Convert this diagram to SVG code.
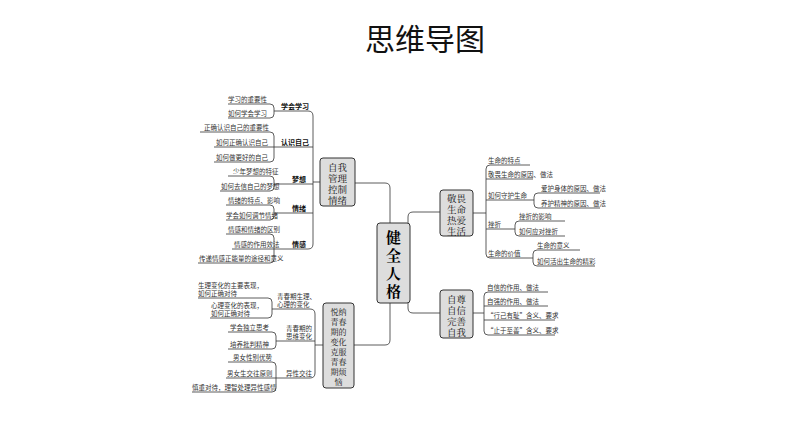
<svg xmlns="http://www.w3.org/2000/svg" width="794" height="447" viewBox="0 0 794 447">
<style>
.t{font-family:"Noto Sans CJK SC","Noto Sans",sans-serif;font-size:6.5px;fill:#333}
.l{font-family:"Noto Sans CJK SC",sans-serif;font-size:7px;fill:#111;font-weight:bold}
.n{font-family:"Noto Serif CJK SC","Noto Sans CJK SC",serif;font-size:9.5px;fill:#111}
.box{fill:#ddd;stroke:#333;stroke-width:1}
.c path{fill:none;stroke:#333;stroke-width:0.8}
</style>
<rect width="794" height="447" fill="#fff"/>
<text x="425" y="50" text-anchor="middle" font-family="Noto Sans CJK SC,sans-serif" font-size="30" fill="#111">思维导图</text>
<g class="c">
<path d="M355,183 H385 Q390,183 390,188 V340 Q390,345 385,345 H354"/>
<path d="M408,223 V217 Q408,212 413,212 H440"/>
<path d="M408,303 V308 Q408,313 413,313 H440"/>
<path d="M320,182 H313 M274,111 H308 Q313,111 313,116 V244 Q313,249 308,249 H274 M274,147 H313 M274,184 H313 M274,213 H313"/>
<path d="M228,104 H270 Q274,104 274,108 V114 Q274,118 270,118 H228"/>
<path d="M200,132 H270 Q274,132 274,136 V158 Q274,162 270,162 H214 M214,147 H274"/>
<path d="M228,176 H270 Q274,176 274,180 V187 Q274,191 270,191 H220"/>
<path d="M226,205 H270 Q274,205 274,209 V216 Q274,220 270,220 H226"/>
<path d="M226,234 H270 Q274,234 274,238 V259 Q274,263 270,263 H198 M232,249 H274"/>
<path d="M323,345 H315 M272,309 H310 Q315,309 315,314 V373 Q315,378 310,378 H276 M276,341 H315"/>
<path d="M198,298 H268 Q272,298 272,302 V314 Q272,318 268,318 H210"/>
<path d="M228,332 H272 Q276,332 276,336 V345 Q276,349 272,349 H228"/>
<path d="M228,362 H272 Q276,362 276,366 V388 Q276,392 272,392 H192 M226,378 H276"/>
<path d="M473,213 H486 M530,165 H490 Q486,165 486,169 V254 Q486,258 490,258 H533 M486,179 H533 M486,200 H534 M486,229 H515"/>
<path d="M600,193 H538 Q534,193 534,197 V204 Q534,208 538,208 H600"/>
<path d="M565,221 H519 Q515,221 515,225 V232 Q515,236 519,236 H565"/>
<path d="M580,250 H537 Q533,250 533,254 V262 Q533,266 537,266 H595"/>
<path d="M473,313 H484 M548,292 H488 Q484,292 484,296 V331 Q484,335 488,335 H555 M484,306 H548 M484,320 H555"/>
</g>
<g id="center"><rect class="box" x="377" y="223" width="33" height="80" rx="3" fill="#ccc"/>
<text font-family="Noto Serif CJK SC,serif" font-size="15" font-weight="bold" text-anchor="middle"><tspan x="393.5" y="243">健</tspan><tspan x="393.5" y="261">全</tspan><tspan x="393.5" y="279">人</tspan><tspan x="393.5" y="297">格</tspan></text></g>
<g id="n1"><rect class="box" x="320" y="158" width="35" height="48" rx="3"/>
<text class="n" text-anchor="middle"><tspan x="337.5" y="171">自我</tspan><tspan x="337.5" y="182">管理</tspan><tspan x="337.5" y="193">控制</tspan><tspan x="337.5" y="204">情绪</tspan></text></g>
<g id="n2"><rect class="box" x="323" y="303" width="31" height="85" rx="3"/>
<text class="n" text-anchor="middle" style="font-size:8px"><tspan x="338.5" y="315">悦纳</tspan><tspan x="338.5" y="325">青春</tspan><tspan x="338.5" y="335">期的</tspan><tspan x="338.5" y="345">变化</tspan><tspan x="338.5" y="355">克服</tspan><tspan x="338.5" y="365">青春</tspan><tspan x="338.5" y="375">期烦</tspan><tspan x="338.5" y="385">恼</tspan></text></g>
<g id="n3"><rect class="box" x="440" y="190" width="33" height="46" rx="3"/>
<text class="n" text-anchor="middle"><tspan x="456.5" y="202">敬畏</tspan><tspan x="456.5" y="213">生命</tspan><tspan x="456.5" y="224">热爱</tspan><tspan x="456.5" y="235">生活</tspan></text></g>
<g id="n4"><rect class="box" x="440" y="290" width="33" height="48" rx="3"/>
<text class="n" text-anchor="middle"><tspan x="456.5" y="303">自尊</tspan><tspan x="456.5" y="314">自信</tspan><tspan x="456.5" y="325">完善</tspan><tspan x="456.5" y="336">自我</tspan></text></g>
<g id="labels">
<text class="l" x="281" y="109">学会学习</text>
<text class="l" x="281" y="145">认识自己</text>
<text class="l" x="292" y="182">梦想</text>
<text class="l" x="292" y="211">情绪</text>
<text class="l" x="292" y="247">情感</text>
<text class="t" x="277" y="299">青春期生理、</text><text class="t" x="277" y="307">心理的变化</text>
<text class="t" x="286" y="331">青春期的</text><text class="t" x="286" y="339">思维变化</text>
<text class="t" x="286" y="376">异性交往</text>
</g>
<g id="items">
<text class="t" x="228" y="102">学习的重要性</text>
<text class="t" x="228" y="116">如何学会学习</text>
<text class="t" x="204" y="130">正确认识自己的重要性</text>
<text class="t" x="216" y="145">如何正确认识自己</text>
<text class="t" x="216" y="160">如何做更好的自己</text>
<text class="t" x="233" y="174">少年梦想的特征</text>
<text class="t" x="221" y="189">如何去信自己的梦想</text>
<text class="t" x="228" y="203">情绪的特点、影响</text>
<text class="t" x="226" y="218">学会如何调节情绪</text>
<text class="t" x="228" y="232">情感和情绪的区别</text>
<text class="t" x="234" y="247">情感的作用效法</text>
<text class="t" x="199" y="261">传递情感正能量的途径和意义</text>
<text class="t" x="198" y="288">生理变化的主要表现，</text><text class="t" x="198" y="296">如何正确对待</text>
<text class="t" x="211" y="308">心理变化的表现，</text><text class="t" x="211" y="316">如何正确对待</text>
<text class="t" x="230" y="330">学会独立思考</text>
<text class="t" x="230" y="347">培养批判精神</text>
<text class="t" x="233" y="360">男女性别优势</text>
<text class="t" x="227" y="376">男女生交往原则</text>
<text class="t" x="192" y="390">慎重对待，理智处理异性感情</text>
<text class="t" x="488" y="163">生命的特点</text>
<text class="t" x="488" y="177">敬畏生命的原因、做法</text>
<text class="t" x="488" y="198">如何守护生命</text>
<text class="t" x="541" y="191">爱护身体的原因、做法</text>
<text class="t" x="541" y="206">养护精神的原因、做法</text>
<text class="t" x="488" y="227">挫折</text>
<text class="t" x="519" y="219">挫折的影响</text>
<text class="t" x="519" y="234">如何应对挫折</text>
<text class="t" x="488" y="256">生命的价值</text>
<text class="t" x="537" y="248">生命的意义</text>
<text class="t" x="537" y="264">如何活出生命的精彩</text>
<text class="t" x="487" y="290">自信的作用、做法</text>
<text class="t" x="487" y="304">自强的作用、做法</text>
<text class="t" x="487" y="318">“行己有耻”含义、要求</text>
<text class="t" x="487" y="333">“止于至善”含义、要求</text>
</g>
</svg>
